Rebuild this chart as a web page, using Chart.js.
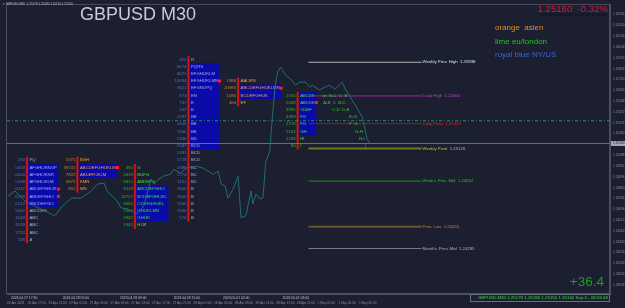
<!DOCTYPE html>
<html>
<head>
<meta charset="utf-8">
<script src="https://cdn.jsdelivr.net/npm/chart.js@4.4.0/dist/chart.umd.min.js"></script>
<style>
  html, body { margin: 0; padding: 0; background: #1c1f2f; }
  canvas { display: block; }
</style>
</head>
<body>
<canvas id="chart" width="625" height="308"></canvas>
<script>
// GBPUSD M30 - price, levels and TPO profiles

// price line (bar index from 26 Apr 13:00, close)
const priceBars = [0.4, 3.1, 6.9, 10.7, 14.6, 18.4, 21.5, 24.9, 28.7, 32.6, 34.9, 37.5, 38.7, 42.5, 44.1, 46.4, 50.2, 52.9, 55.6, 56.7, 58.6, 60.5, 63.2, 64.4, 67.0, 69.3, 73.2, 75.9, 79.7, 81.6, 82.8, 84.3, 85.4, 87.4, 89.3, 90.4, 92.3, 94.3, 95.0, 96.2, 97.7, 98.9, 100.0, 101.5, 102.7, 103.8, 104.6, 105.7, 107.7, 109.6, 111.5, 113.0, 115.3, 116.9, 118.0, 120.7, 124.5, 126.8, 129.5, 130.7, 132.2, 133.3, 134.5, 137.2, 138.3, 139.1, 140.2];
const priceClose = [1.24726, 1.24770, 1.24682, 1.24638, 1.24594, 1.24550, 1.24638, 1.24708, 1.24708, 1.24770, 1.24831, 1.24840, 1.24770, 1.24682, 1.24620, 1.24612, 1.24568, 1.24638, 1.24875, 1.24831, 1.24875, 1.24902, 1.24919, 1.24963, 1.24928, 1.24972, 1.24990, 1.24972, 1.24919, 1.24946, 1.24831, 1.24814, 1.24708, 1.24788, 1.24902, 1.24533, 1.24550, 1.24770, 1.24656, 1.24744, 1.24700, 1.24708, 1.25034, 1.25122, 1.25473, 1.25737, 1.25825, 1.25869, 1.25798, 1.25763, 1.25710, 1.25737, 1.25737, 1.25693, 1.25710, 1.25667, 1.25710, 1.25675, 1.25737, 1.25675, 1.25623, 1.25579, 1.25535, 1.25429, 1.25324, 1.25236, 1.25192];

// pivot levels
const levelNames = ['Weekly Prev. High  1.25938', 'Daily High  1.25664', 'Daily Pivot  1.25325', 'Weekly Pivot  1.25126', "Week's Prev. Mid  1.24852", 'Prev. Low  1.24455', "Month's Prev. Mid  1.24285"];
const levelPrices = [1.25913, 1.25614, 1.25368, 1.25148, 1.24858, 1.24453, 1.24260];
const levelLineColors = ['#b4b4b4', '#a020a8', '#a01c1c', '#77771c', '#1c8c1c', '#6c5424', '#7c7c7c'];
const levelTextColors = ['#cfe8ee', '#c040c8', '#d03030', '#c8c83a', '#22c422', '#c48a34', '#b4b4b4'];
const levelFrom = 116.5;
const levelTo = 160.2;

const currentPrice = 1.25192;
const currentText = '1.25160';
const sessionLine = 1.25394;

// time axis
const timeBars = [0, 8, 16, 24, 32, 40, 48, 56, 64, 72, 80, 88, 96, 104, 112, 120, 128, 136];
const timeLabels = ['26 Apr 2023', '26 Apr 17:00', '26 Apr 21:00', '27 Apr 01:00', '27 Apr 05:00', '27 Apr 09:00', '27 Apr 13:00', '27 Apr 17:00', '27 Apr 21:00', '28 Apr 01:00', '28 Apr 05:00', '28 Apr 09:00', '28 Apr 13:00', '28 Apr 17:00', '28 Apr 21:00', '1 May 01:00', '1 May 05:00', '1 May 09:00'];
const sepBars = [1.5, 21.5, 43.7, 64.4, 83.5, 106.5];
const sepLabels = ['2023.04.27 17:30', '2023.04.28 05:00', '2023.04.28 09:00', '2023.04.28 15:00', '2023.05.01 02:00', '2023.05.01 08:00'];

// TPO profiles
const rowStep = 0.00064;
const profSession = ['ny', 'asia', 'london', 'ny', 'asia', 'london'];
const profBar = [7.7, 27.2, 49.4, 70.1, 89.3, 112.3];
const profTop = [1.25043, 1.25043, 1.24979, 1.25939, 1.25747, 1.25619];
const profCounts = [
  ['190', '5059', '6604', '5108', '6417', '6139', '6012', '5062', '4049', '4019', '2720', '188'],
  ['1575', '39741', '7822', '3675', '802'],
  ['390', '2818', '6812', '8119', '13727', '9666', '7300', '2942', '1945'],
  ['312', '6674', '6671', '10694', '6611', '873', '747', '747', '1497', '1600', '1840', '1346', '1587', '1481', '1729', '1889', '1774', '1151', '1840', '1840', '1840', '1840', '570'],
  ['1986', '20983', '1080', '484'],
  ['2180', '5068', '3995', '3399', '2718', '2163', '2198', '80']
];
const profLetters = [
  ['PQ', 'AFGHIJKNOP', 'AFGHIJKNR', 'AFGHIJKLM', 'ABCEFGHIJK', 'ABDEFGHIJ', 'ABCDEFGIJ', 'ABCDEF', 'ABC', 'ABC', 'ABC', 'A'],
  ['BGH', 'ABCDEFGHIJKLM', 'ABDEFIJKLM', 'KMN', 'MN'],
  ['G', 'BDFG', 'ABDEFG', 'ABCDEFGHIJ', 'BCDEFGHIJKL', 'CDEFGHIJKL', 'GHIJKLMN', 'GHIJK', 'HIJK'],
  ['R', 'PQRS', 'EFGHIJKLM', 'EFGHIJKLMN', 'EFGNOPQ', 'EN', 'E', 'E', 'BE', 'BE', 'BE', 'BD', 'BCD', 'BCD', 'BCD', 'BC', 'BC', 'BC', 'B', 'B', 'B', 'B', 'B'],
  ['AAIJKN', 'ABCDEFGHIJKLMN', 'BCDEFGHIJK', 'EF'],
  ['ABCDE', 'ABCDE', 'CDEF', 'FG', 'FG', 'GH', 'HI', 'I']
];
const profValueArea = [[1, 6], [1, 2], [3, 7], [1, 12], [1, 2], [0, 5]];
const profPoc = [[4, 5], [1], [], [3], [1], [1]];

// running session letters after the last profile
const markBars = [121.8, 122.2, 125.7, 132.2, 132.2, 134.5, 136.0, 138.3];
const markPrices = [1.25619, 1.25555, 1.25491, 1.25427, 1.25363, 1.25299, 1.25235, 1.25171];
const markTexts = ['sh  B-C  C  B', 'A-B  C  B-C', 'C-D  D-E', 'E-G', 'F  G', 'G-H', 'H-I', 'I'];

const sessionColors = {
  ny: { count: '#5470d0', letters: '#9fb0f0' },
  asia: { count: '#c8862c', letters: '#f3a33a' },
  london: { count: '#26b826', letters: '#3ee03e' }
};

const xMax = 233;
const yMin = 1.23856;
const yMax = 1.26422;
const SANS = '"Liberation Sans", Arial, sans-serif';

const bgPlugin = {
  id: 'bg',
  beforeDraw(chart) {
    const { ctx, chartArea: a } = chart;
    ctx.save();
    ctx.fillStyle = '#1c1f2f';
    ctx.fillRect(0, 0, chart.width, chart.height);
    ctx.strokeStyle = '#4a4e60';
    ctx.lineWidth = 1;
    ctx.strokeRect(a.left - 0.5, a.top - 0.5, a.right - a.left, a.bottom - a.top);
    ctx.restore();
  }
};

const profilePlugin = {
  id: 'profiles',
  beforeDatasetsDraw(chart) {
    const { ctx, scales: { x, y } } = chart;
    ctx.save();
    ctx.font = '4.3px ' + SANS;
    ctx.textBaseline = 'middle';
    profBar.forEach((bar, i) => {
      const col = sessionColors[profSession[i]];
      const x0 = x.getPixelForValue(bar);
      const rowY = r => y.getPixelForValue(profTop[i] - r * rowStep);
      const half = Math.abs(rowY(1) - rowY(0)) / 2;
      const [va0, va1] = profValueArea[i];
      let w = 0;
      for (let r = va0; r <= va1; r++) w = Math.max(w, ctx.measureText(profLetters[i][r]).width);
      const boxW = w + 3;
      ctx.fillStyle = '#0a0aa8';
      ctx.fillRect(x0 + 1, rowY(va0) - half, boxW, rowY(va1) - rowY(va0) + 2 * half);
      const n = profCounts[i].length;
      ctx.fillStyle = '#d41414';
      ctx.fillRect(x0 - 1, rowY(0) - half, 2, rowY(n - 1) - rowY(0) + 2 * half);
      profCounts[i].forEach((c, r) => {
        ctx.textAlign = 'right';
        ctx.fillStyle = col.count;
        ctx.fillText(c, x0 - 2, rowY(r));
        ctx.textAlign = 'left';
        ctx.fillStyle = col.letters;
        ctx.fillText(profLetters[i][r], x0 + 2.5, rowY(r));
      });
      ctx.fillStyle = '#ff1a1a';
      profPoc[i].forEach(r => ctx.fillRect(x0 + boxW - 0.5, rowY(r) - 1.5, 3, 3));
    });
    ctx.restore();
  }
};

const textPlugin = {
  id: 'texts',
  afterDraw(chart) {
    const { ctx, scales: { x, y }, chartArea: a } = chart;
    ctx.save();
    ctx.textBaseline = 'middle';

    // level labels
    ctx.font = '4.3px ' + SANS;
    ctx.textAlign = 'left';
    levelNames.forEach((t, i) => {
      ctx.fillStyle = levelTextColors[i];
      ctx.fillText(t, x.getPixelForValue(levelTo) + 1, y.getPixelForValue(levelPrices[i]));
    });

    // running session letters
    ctx.fillStyle = '#33d033';
    markTexts.forEach((t, i) => ctx.fillText(t, x.getPixelForValue(markBars[i]), y.getPixelForValue(markPrices[i])));

    // current price tag on the axis
    const cy = y.getPixelForValue(currentPrice);
    ctx.fillStyle = '#a8a8b4';
    ctx.fillRect(a.right + 1, cy - 2.5, chart.width - a.right - 1, 5);
    ctx.fillStyle = '#1c1f2f';
    ctx.font = '3.2px ' + SANS;
    ctx.fillText(currentText, a.right + 3, cy);

    // top-left info
    ctx.fillStyle = '#b8bcc8';
    ctx.font = '3px ' + SANS;
    ctx.fillText('\u25BE GBPUSD,M30  1.25179 1.25180 1.25150 1.25160', 3, 4);

    // title
    ctx.fillStyle = '#c7cbd3';
    ctx.font = '18px ' + SANS;
    ctx.textBaseline = 'alphabetic';
    ctx.fillText('GBPUSD M30', 80, 19.5);

    // price & change
    ctx.textAlign = 'right';
    ctx.fillStyle = '#d41e3a';
    ctx.font = '9.6px ' + SANS;
    ctx.fillText('1.25160  -0.32%', 608, 11.5);
    ctx.fillStyle = '#0c0c12';
    ctx.font = '3.3px ' + SANS;
    ctx.fillText('O:1.25179  H:1.25180  L:1.25150  C:1.25160', 607, 15.5);

    // session legend
    ctx.textAlign = 'left';
    ctx.font = '8px ' + SANS;
    ctx.fillStyle = '#e8901c';
    ctx.fillText('orange  asien', 495, 30);
    ctx.fillStyle = '#1ec81e';
    ctx.fillText('lime eu/london', 495, 43.5);
    ctx.fillStyle = '#3c64d4';
    ctx.fillText('royal blue NY/US', 495, 57);

    // +36.4
    ctx.textAlign = 'right';
    ctx.fillStyle = '#1e9e1e';
    ctx.font = '13.5px ' + SANS;
    ctx.fillText('+36.4', 604, 285.5);

    // separator labels
    ctx.textBaseline = 'middle';
    ctx.textAlign = 'left';
    ctx.font = '3.4px ' + SANS;
    ctx.fillStyle = '#c4c8d0';
    sepLabels.forEach((t, i) => ctx.fillText(t, x.getPixelForValue(sepBars[i]), 298));

    // status box
    ctx.strokeStyle = '#6a6e80';
    ctx.lineWidth = 1;
    ctx.strokeRect(470.5, 294.5, 139, 7);
    ctx.fillStyle = '#1c1f2f';
    ctx.fillRect(471, 295, 138, 6);
    ctx.textAlign = 'right';
    ctx.fillStyle = '#2ee02e';
    ctx.font = '4.4px ' + SANS;
    ctx.fillText('GBPUSD,M30 1.25179 1.25180 1.25150 1.25160 Sep 5 - 08:26:48', 608, 298);
    ctx.restore();
  }
};

const datasets = [
  {
    data: priceBars.map((b, i) => ({ x: b, y: priceClose[i] })),
    borderColor: '#1f6e72', borderWidth: 1, pointRadius: 0, tension: 0
  },
  {
    data: [{ x: 0, y: currentPrice }, { x: xMax, y: currentPrice }],
    borderColor: '#17a05a', borderWidth: 1, pointRadius: 0
  },
  {
    data: [{ x: 0, y: sessionLine }, { x: xMax, y: sessionLine }],
    borderColor: '#2d8a5e', borderWidth: 1, borderDash: [3, 2, 1, 2], pointRadius: 0
  }
];
levelPrices.forEach((p, i) => {
  datasets.push({
    data: [{ x: levelFrom, y: p }, { x: levelTo, y: p }],
    borderColor: levelLineColors[i],
    borderWidth: (i === 3 || i === 5) ? 2 : 1,
    pointRadius: 0
  });
});

new Chart(document.getElementById('chart'), {
  type: 'line',
  data: { datasets },
  options: {
    responsive: false,
    animation: false,
    devicePixelRatio: 1,
    layout: { padding: { left: 2, top: 2, right: 0, bottom: 0 } },
    plugins: { legend: { display: false }, tooltip: { enabled: false } },
    scales: {
      x: {
        type: 'linear', min: 0, max: xMax,
        grid: { display: false, drawTicks: false },
        border: { display: true, color: '#4a4e60' },
        ticks: {
          autoSkip: false, maxRotation: 0, align: 'start', padding: 7,
          color: '#8a8fa3', font: { size: 3.2, family: SANS },
          callback: (v, i) => timeLabels[i]
        },
        afterBuildTicks: s => { s.ticks = timeBars.map(v => ({ value: v })); },
        afterFit: s => { s.height = 14; }
      },
      y: {
        position: 'right', min: yMin, max: yMax,
        grid: { display: false, drawTicks: false },
        border: { display: true, color: '#4a4e60' },
        ticks: {
          stepSize: 0.00096, includeBounds: false, autoSkip: false, padding: 3,
          color: '#8a8fa3', font: { size: 3.2, family: SANS },
          callback: v => v.toFixed(5)
        },
        afterBuildTicks: s => { s.ticks = s.ticks.filter(t => t.value >= yMin && t.value <= yMax); },
        afterFit: s => { s.width = 15; }
      }
    }
  },
  plugins: [bgPlugin, profilePlugin, textPlugin]
});
</script>
</body>
</html>
